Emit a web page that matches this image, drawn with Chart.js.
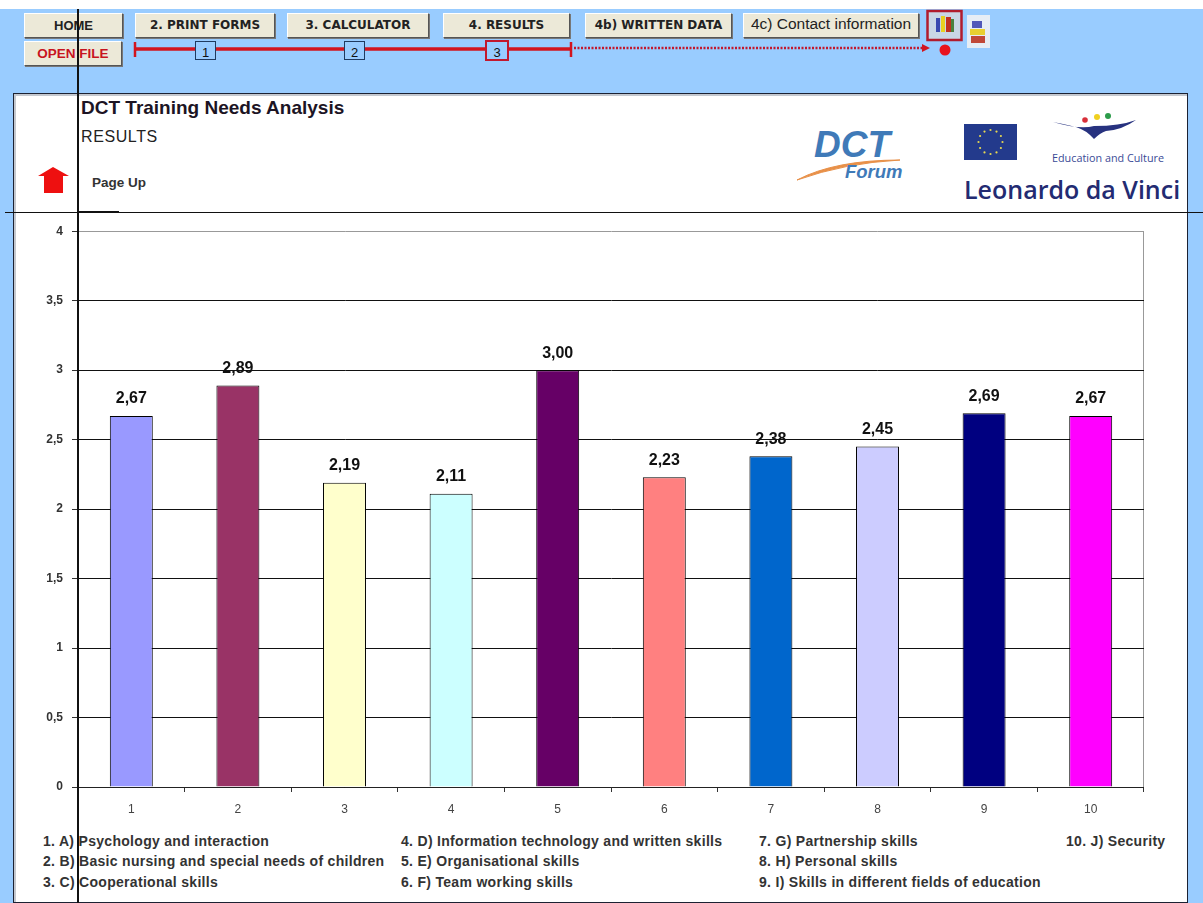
<!DOCTYPE html>
<html>
<head>
<meta charset="utf-8">
<script src="https://cdn.jsdelivr.net/npm/chart.js@4"></script>
<style>
html,body{margin:0;padding:0;background:#fff;overflow:hidden}
#page{position:relative;width:1203px;height:903px;overflow:hidden;font-family:"Liberation Sans",Arial,sans-serif;color:#1a1a1a}
#sky{position:absolute;left:0;top:9px;width:1203px;height:894px;background:#99ccff}
#panel{position:absolute;left:13px;top:93px;width:1173px;height:808px;background:#fff;border:1px solid #1c2233;box-shadow:inset 2px 2px 0 #c4c8cf}
.btn{position:absolute;box-sizing:border-box;height:25px;background:#ece9d8;border-top:1px solid #fff;border-left:1px solid #fff;border-right:1px solid #555;border-bottom:1px solid #555;box-shadow:1px 1px 0 #777;font:bold 12px/23px "DejaVu Sans";text-align:center;color:#222;white-space:nowrap}
.t{position:absolute;white-space:nowrap}
.leg{position:absolute;white-space:nowrap;font:bold 14px "Liberation Sans";color:#333;letter-spacing:.3px}
.box{position:absolute;box-sizing:border-box;background:#99ccff;border:1.5px solid #1f3a5f;font:13px/21px "Liberation Sans";text-align:center;color:#111}
.ln{position:absolute;background:#111}
svg{position:absolute;left:0;top:0}
canvas{position:absolute;left:15px;top:215px}
</style>
</head>
<body>
<div id="page">
  <div id="sky"></div>
  <div id="panel"></div>

  <div class="btn" style="left:24px;top:13px;width:99px;font:bold 13px/23px 'Liberation Sans'">HOME</div>
  <div class="btn" style="left:135px;top:13px;width:140px">2. PRINT FORMS</div>
  <div class="btn" style="left:287px;top:13px;width:142px">3. CALCULATOR</div>
  <div class="btn" style="left:443px;top:13px;width:127px">4. RESULTS</div>
  <div class="btn" style="left:585px;top:13px;width:147px">4b) WRITTEN DATA</div>
  <div class="btn" style="left:743px;top:13px;width:176px;font:15.5px/20px 'Liberation Sans'">4c) Contact information</div>
  <div class="btn" style="left:24px;top:41px;width:98px;color:#c8141e;font:bold 13.5px/23px 'Liberation Sans'">OPEN FILE</div>

  <svg width="1203" height="903">
    <path d="M135 49H571" stroke="#d2141e" stroke-width="3.5"/>
    <path d="M135 42V57M571 42V57" stroke="#d2141e" stroke-width="2.5"/>
    <path d="M574 48H922" stroke="#c2182e" stroke-width="2.5" stroke-dasharray="2 1.5"/>
    <path d="M922 44L930 48L922 52Z" fill="#d2141e"/>
    <circle cx="945" cy="50" r="5.5" fill="#e8121e"/>
    <rect x="927.5" y="11" width="34" height="29" fill="#c9d6e6" stroke="#b01c2e" stroke-width="2.5"/>
    <rect x="936" y="18" width="4" height="14" fill="#3848b0"/><rect x="941" y="16" width="4" height="16" fill="#e8d020"/><rect x="946" y="17" width="5" height="15" fill="#c03020"/><rect x="951" y="19" width="3" height="13" fill="#4a8040"/>
    <rect x="967" y="15" width="23" height="33" fill="#e6edf5"/>
    <rect x="972" y="21" width="10" height="7" fill="#5058b8"/><rect x="970" y="29" width="15" height="6" fill="#e8d030"/><rect x="971" y="36" width="14" height="7" fill="#c04838"/>
    <path d="M53 167L69 176H63V193H44V176H38Z" fill="#ee1010"/>

    <path d="M797 180Q835 160 900 160Q845 163 797 180Z" fill="#e89048" stroke="#e89048"/>

    <rect x="964" y="124" width="53" height="36" fill="#233a8c"/>
    <g id="stars" fill="#e8d850"></g>

    <path d="M1053 122Q1080 130 1094 126Q1120 126 1136 120Q1122 130 1106 131Q1100 133 1094 139Q1086 130 1076 127Q1064 124 1053 122Z" fill="#27327f"/>
    <circle cx="1085" cy="120" r="2.8" fill="#d8303a"/><circle cx="1097" cy="117" r="3" fill="#f0d020"/><circle cx="1108" cy="116" r="3" fill="#2c9c4a"/>
  </svg>

  <div class="box" style="left:195px;top:41px;width:21px;height:19px">1</div>
  <div class="box" style="left:344px;top:41px;width:21px;height:19px">2</div>
  <div class="box" style="left:485px;top:40px;width:24px;height:21px;border:2px solid #c2182e">3</div>

  <div class="t" style="left:81px;top:97px;font:bold 19px 'Liberation Sans';color:#1c1424">DCT Training Needs Analysis</div>
  <div class="t" style="left:81px;top:128px;font:16px 'Liberation Sans';letter-spacing:.6px;color:#222">RESULTS</div>
  <div class="t" style="left:92px;top:175px;font:bold 13.5px 'Liberation Sans';color:#333">Page Up</div>

  <div class="t" style="left:814px;top:124px;font:italic bold 37px 'Liberation Sans';color:#3f7ab8">DCT</div>
  <div class="t" style="left:845px;top:161px;font:italic bold 18.5px 'Liberation Sans';color:#3f7ab8">Forum</div>
  <div class="t" style="left:1052px;top:150px;font:10.8px 'Open Sans';color:#3a4a96">Education and Culture</div>
  <div class="t" style="left:964px;top:172px;font:600 25px 'Open Sans';color:#232b72">Leonardo da Vinci</div>

  <canvas id="resultsChart" width="1129" height="610"></canvas>

  <div id="legendBox"></div>

  <div class="ln" style="left:77px;top:9px;width:2px;height:894px"></div>
  <div class="ln" style="left:5px;top:212px;width:1198px;height:1px"></div>
  <div class="ln" style="left:78px;top:211px;width:41px;height:1px"></div>
</div>

<script>
const categories = ['1','2','3','4','5','6','7','8','9','10'];
const scores = [2.67, 2.89, 2.19, 2.11, 3.00, 2.23, 2.38, 2.45, 2.69, 2.67];
const barColors = ['#9999ff','#993366','#ffffcc','#ccffff','#660066','#ff8080','#0066cc','#ccccff','#000080','#ff00ff'];
const yMax = 4;
const yStep = 0.5;

const legendCol1 = ['1. A) Psychology and interaction','2. B) Basic nursing and special needs of children','3. C) Cooperational skills'];
const legendCol2 = ['4. D) Information technology and written skills','5. E) Organisational skills','6. F) Team working skills'];
const legendCol3 = ['7. G) Partnership skills','8. H) Personal skills','9. I) Skills in different fields of education'];
const legendCol4 = ['10. J) Security'];

const comma = v => String(v).replace('.', ',');

// value labels above the bars
const barLabels = {
  id: 'barLabels',
  afterDatasetsDraw(chart) {
    const c = chart.ctx;
    c.save();
    c.font = 'bold 16px "Liberation Sans"';
    c.fillStyle = '#111';
    c.textAlign = 'center';
    c.textBaseline = 'middle';
    chart.getDatasetMeta(0).data.forEach((bar, i) => {
      c.fillText(comma(scores[i].toFixed(2)), bar.x, bar.y - 17);
    });
    c.restore();
  }
};

new Chart(document.getElementById('resultsChart'), {
  type: 'bar',
  data: {
    labels: categories,
    datasets: [{
      data: scores,
      backgroundColor: barColors,
      borderColor: '#000',
      borderWidth: 1,
      barPercentage: 0.403,
      categoryPercentage: 1
    }]
  },
  options: {
    responsive: false,
    animation: false,
    layout: { padding: { top: 16 } },
    plugins: { legend: { display: false }, tooltip: { enabled: false } },
    scales: {
      x: {
        afterFit: s => { s.height = 38; },
        grid: {
          color: ctx => ctx.tick ? 'transparent' : '#999',
          tickColor: '#333',
          tickLength: 5
        },
        border: { color: '#222' },
        ticks: { color: '#444', font: { family: 'Liberation Sans', size: 12 }, padding: 10, maxRotation: 0 }
      },
      y: {
        min: 0,
        max: yMax,
        afterFit: s => { s.width = 63; },
        grid: {
          color: ctx => ctx.tick && ctx.tick.value === yMax ? '#999' : '#111',
          tickColor: '#333',
          tickLength: 6
        },
        border: { color: '#111' },
        ticks: {
          stepSize: yStep,
          color: '#333',
          padding: 9,
          font: { family: 'Liberation Sans', size: 12, weight: 'bold' },
          callback: comma
        }
      }
    }
  },
  plugins: [barLabels]
});

const legendBox = document.getElementById('legendBox');
const legendX = [43, 401, 759, 1066];
const legendY = [833, 853, 874];
[legendCol1, legendCol2, legendCol3, legendCol4].forEach((col, i) => {
  col.forEach((txt, j) => {
    const el = document.createElement('div');
    el.className = 'leg';
    el.style.left = legendX[i] + 'px';
    el.style.top = legendY[j] + 'px';
    el.textContent = txt;
    legendBox.appendChild(el);
  });
});

// twelve stars on the flag
const stars = document.getElementById('stars');
for (let i = 0; i < 12; i++) {
  const a = i * Math.PI / 6;
  const s = document.createElementNS('http://www.w3.org/2000/svg', 'circle');
  s.setAttribute('cx', 990.5 + 12 * Math.cos(a));
  s.setAttribute('cy', 142 + 12 * Math.sin(a));
  s.setAttribute('r', 1.1);
  stars.appendChild(s);
}
</script>
</body>
</html>
